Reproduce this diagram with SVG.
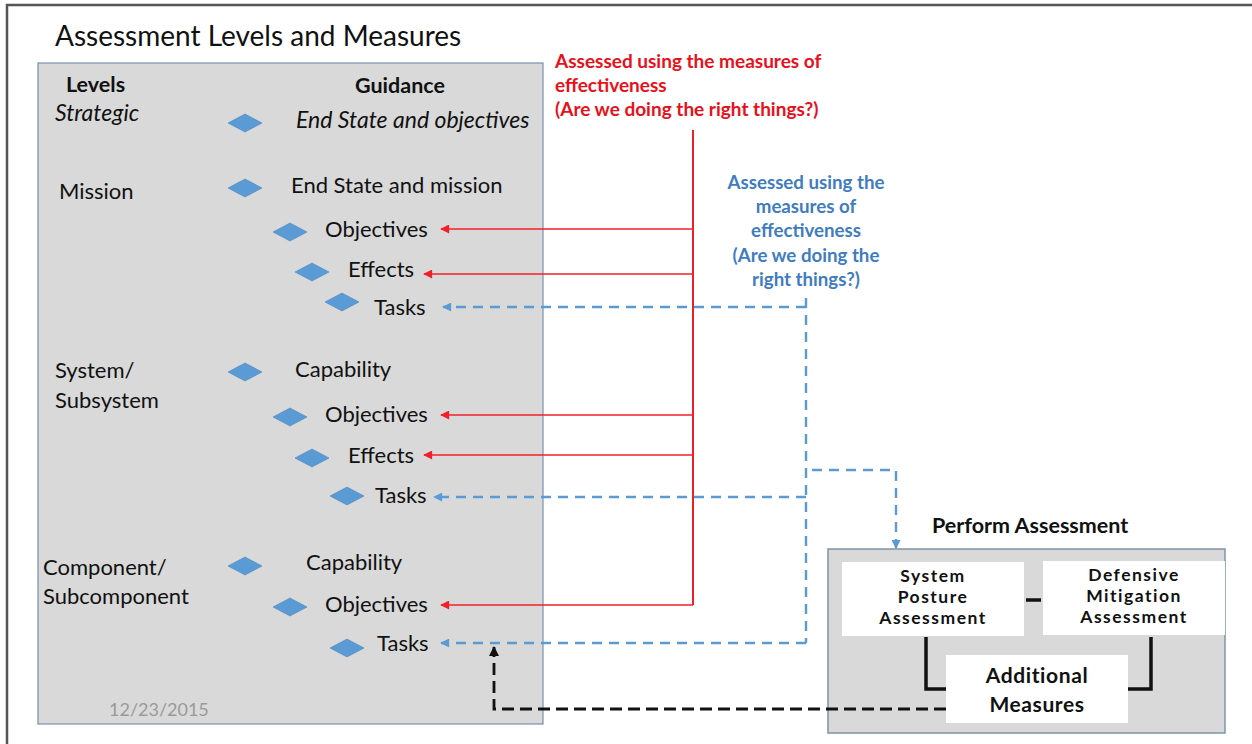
<svg xmlns="http://www.w3.org/2000/svg" width="1252" height="744" viewBox="0 0 1252 744">
<defs>
<style>
.t{font-family:Lato,"Open Sans","Liberation Sans",sans-serif;fill:#111;font-size:22px}
.b{font-weight:bold;font-size:21.5px}
.i{font-style:italic;font-size:23px}
.red{fill:#e8101a;font-weight:bold;font-size:19px}
.blue{fill:#3f7cc0;font-weight:bold;font-size:18.7px;text-anchor:middle}
.box{font-weight:bold;font-size:17.5px;letter-spacing:1.5px;text-anchor:middle}
.dia{fill:#5b9bd5;stroke:#4a86c0;stroke-width:0.6}
.rl{fill:none;stroke:#f0202a;stroke-width:1.6}
.bl{fill:none;stroke:#5b9bd5;stroke-width:2.4;stroke-dasharray:10 7}
.kl{fill:none;stroke:#111;stroke-width:2.8;stroke-dasharray:12 6}
.sl{fill:none;stroke:#111;stroke-width:3.5}
</style>
<marker id="ar" viewBox="0 0 10 10" refX="9" refY="5" markerWidth="10" markerHeight="9" markerUnits="userSpaceOnUse" orient="auto"><path d="M10,5 L0,0 L0,10 Z" fill="#f0202a"/></marker>
<marker id="ab" viewBox="0 0 10 10" refX="9" refY="5" markerWidth="10" markerHeight="9" markerUnits="userSpaceOnUse" orient="auto"><path d="M10,5 L0,0 L0,10 Z" fill="#5b9bd5"/></marker>
<marker id="ak" viewBox="0 0 10 10" refX="9" refY="5" markerWidth="11" markerHeight="10" markerUnits="userSpaceOnUse" orient="auto"><path d="M10,5 L0,0 L0,10 Z" fill="#111"/></marker>
<path id="d" d="M-17,0 L0,-9 L17,0 L0,9 Z"/>
</defs>
<rect width="1252" height="744" fill="#fff"/>
<path d="M7,744 V5 H1252" fill="none" stroke="#555" stroke-width="2.5"/>
<text class="t" x="55" y="46" style="font-size:28px">Assessment Levels and Measures</text>

<g id="levels-panel">
<rect x="38" y="63" width="505" height="661" fill="#d9d9d9" stroke="#7791b0" stroke-width="1.2"/>
<text class="t b" x="66" y="92">Levels</text>
<text class="t b" x="355" y="93">Guidance</text>
<text class="t" x="109" y="716" style="fill:#9a9a9a;font-size:18px">12/23/2015</text>
</g>

<g id="strategic">
<text class="t i" x="55" y="121">Strategic</text>
<use href="#d" class="dia" x="245" y="123"/>
<text class="t i" x="296" y="128">End State and objectives</text>
</g>
<g id="mission">
<text class="t" x="59" y="199">Mission</text>
<use href="#d" class="dia" x="245" y="188"/>
<text class="t" x="291" y="193">End State and mission</text>
<use href="#d" class="dia" x="290" y="232"/>
<text class="t" x="325" y="237">Objectives</text>
<use href="#d" class="dia" x="312" y="272"/>
<text class="t" x="348" y="277">Effects</text>
<use href="#d" class="dia" x="342" y="302"/>
<text class="t" x="374" y="315">Tasks</text>
</g>
<g id="system">
<text class="t" x="55" y="378">System/</text>
<text class="t" x="55" y="408">Subsystem</text>
<use href="#d" class="dia" x="245" y="372"/>
<text class="t" x="295" y="377">Capability</text>
<use href="#d" class="dia" x="290" y="417"/>
<text class="t" x="325" y="422">Objectives</text>
<use href="#d" class="dia" x="312" y="458"/>
<text class="t" x="348" y="463">Effects</text>
<use href="#d" class="dia" x="347" y="496"/>
<text class="t" x="375" y="503">Tasks</text>
</g>
<g id="component">
<text class="t" x="43" y="575">Component/</text>
<text class="t" x="43" y="604">Subcomponent</text>
<use href="#d" class="dia" x="245" y="566"/>
<text class="t" x="306" y="570">Capability</text>
<use href="#d" class="dia" x="290" y="607"/>
<text class="t" x="325" y="612">Objectives</text>
<use href="#d" class="dia" x="347" y="648"/>
<text class="t" x="377" y="651">Tasks</text>
</g>

<g id="red-label">
<text class="t red" x="555" y="68">Assessed using the measures of</text>
<text class="t red" x="555" y="92">effectiveness</text>
<text class="t red" x="555" y="116">(Are we doing the right things?)</text>
</g>
<g id="blue-label">
<text class="t blue" x="806" y="189">Assessed using the</text>
<text class="t blue" x="806" y="213">measures of</text>
<text class="t blue" x="806" y="237">effectiveness</text>
<text class="t blue" x="806" y="262">(Are we doing the</text>
<text class="t blue" x="806" y="286">right things?)</text>
</g>

<g id="perform-assessment">
<text class="t b" x="932" y="533">Perform Assessment</text>
<rect x="828" y="549" width="397" height="184" fill="#d9d9d9" stroke="#7f93a8" stroke-width="1.5"/>
<g id="spa">
<rect x="842" y="562" width="182" height="74" fill="#fff"/>
<text class="t box" x="933" y="582">System</text>
<text class="t box" x="933" y="603">Posture</text>
<text class="t box" x="933" y="624">Assessment</text>
</g>
<g id="dma">
<rect x="1043" y="561" width="182" height="74" fill="#fff"/>
<text class="t box" x="1134" y="581">Defensive</text>
<text class="t box" x="1134" y="602">Mitigation</text>
<text class="t box" x="1134" y="623">Assessment</text>
</g>
<g id="am">
<rect x="946" y="655" width="182" height="68" fill="#fff"/>
<text class="t box" x="1037" y="683" style="font-size:21px;letter-spacing:0.6px">Additional</text>
<text class="t box" x="1037" y="712" style="font-size:21px;letter-spacing:0.6px">Measures</text>
</g>
</g>

<g id="connectors">
<path class="rl" d="M693,130 V605" style="stroke-width:2"/>
<path class="rl" d="M693,229 H441" marker-end="url(#ar)"/>
<path class="rl" d="M693,274 H424" marker-end="url(#ar)"/>
<path class="rl" d="M693,415 H441" marker-end="url(#ar)"/>
<path class="rl" d="M693,455 H424" marker-end="url(#ar)"/>
<path class="rl" d="M693,605 H441" marker-end="url(#ar)"/>

<path class="bl" d="M806,298 V643"/>
<path class="bl" d="M806,307 H443" marker-end="url(#ab)"/>
<path class="bl" d="M806,497 H434" marker-end="url(#ab)"/>
<path class="bl" d="M806,643 H441" marker-end="url(#ab)"/>
<path class="bl" d="M812,470 H896 V548" marker-end="url(#ab)"/>

<path class="kl" d="M946,709 H494 V647" marker-end="url(#ak)"/>

<path class="sl" d="M1026,600 H1041"/>
<path class="sl" d="M926,637 V689 H946"/>
<path class="sl" d="M1151,637 V689 H1128"/>
</g>
</svg>
